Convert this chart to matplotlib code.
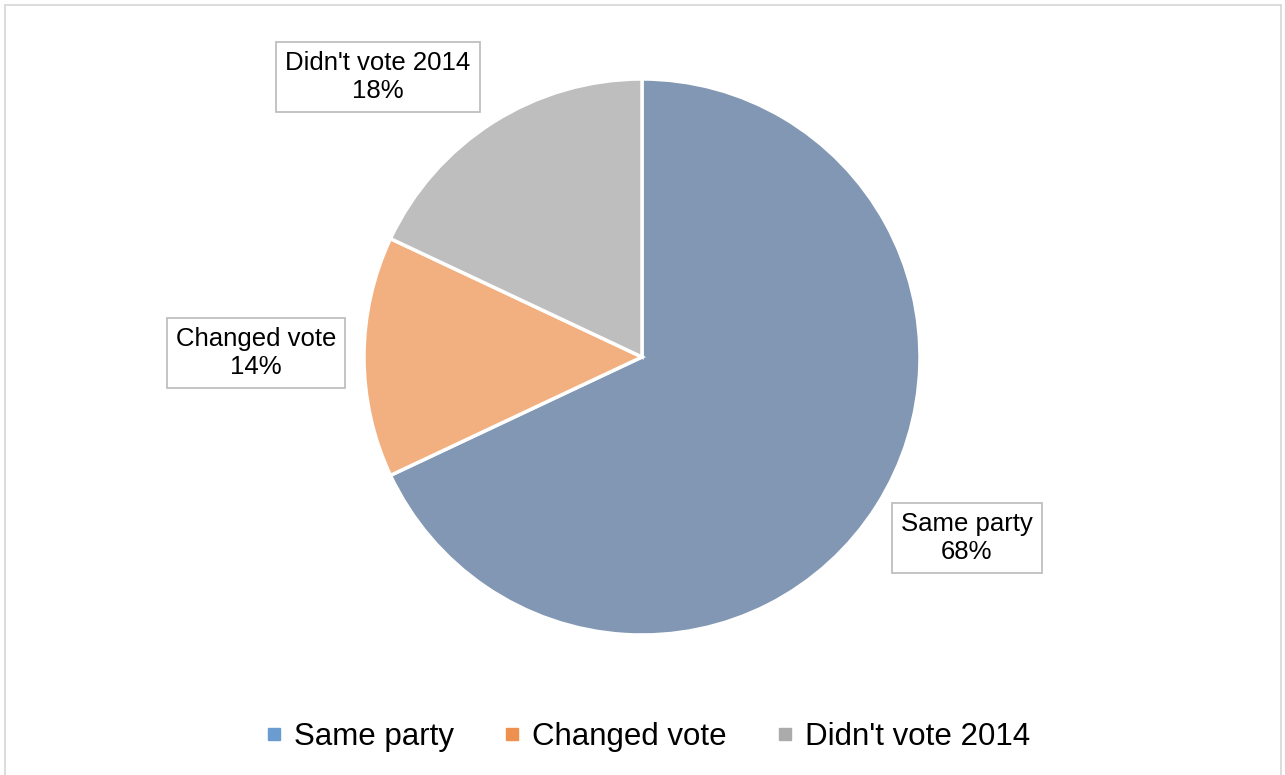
import matplotlib.pyplot as plt
from matplotlib.lines import Line2D

plt.rcParams['font.family'] = ['Liberation Sans', 'DejaVu Sans']

categories = ['Same party', 'Changed vote', "Didn't vote 2014"]
shares = [68, 14, 18]

wedge_colors = ['#8297B3', '#F2B080', '#BEBEBE']
legend_colors = ['#6A9CCF', '#EE9150', '#ABABAB']
# label box centres (figure pixels from top-left)
label_pos = [(967, 538), (256, 353), (378, 77)]

W, H = 1285, 775
fig = plt.figure(figsize=(W / 100, H / 100), dpi=100)

# pie axes: centre (642, 357), radius 278 px
cx, cy, r = 642, 357, 278
ax = fig.add_axes([(cx - r) / W, 1 - (cy + r) / H, 2 * r / W, 2 * r / H])
ax.pie(shares, colors=wedge_colors, startangle=90, counterclock=False,
       radius=1, wedgeprops=dict(edgecolor='white', linewidth=2.5))
ax.set_xlim(-1, 1)
ax.set_ylim(-1, 1)
ax.set_aspect('equal')
ax.axis('off')

for cat, val, (px, py) in zip(categories, shares, label_pos):
    fig.text(px / W, 1 - py / H, f'{cat}\n{val}%', ha='center', va='center',
             fontsize=18.5, linespacing=1.2,
             bbox=dict(boxstyle='square,pad=0.35', fc='white', ec='#BFBFBF', lw=1.3))

handles = [Line2D([], [], marker='s', linestyle='none', markersize=8,
                  markerfacecolor=c, markeredgecolor=c) for c in legend_colors]
fig.legend(handles, categories, loc='center', bbox_to_anchor=(0.503, 1 - 737 / H),
           ncol=3, frameon=False, fontsize=22.5, handletextpad=0.3,
           columnspacing=1.5, handlelength=0.7)

# outer chart border (left, top, right)
border = dict(color='#D9D9D9', lw=1.3, transform=fig.transFigure)
fig.add_artist(Line2D([4.5 / W, 4.5 / W], [0, 1 - 4.5 / H], **border))
fig.add_artist(Line2D([4.5 / W, 1280.5 / W], [1 - 4.5 / H, 1 - 4.5 / H], **border))
fig.add_artist(Line2D([1280.5 / W, 1280.5 / W], [0, 1 - 4.5 / H], **border))

fig.savefig('out.png', dpi=100)
